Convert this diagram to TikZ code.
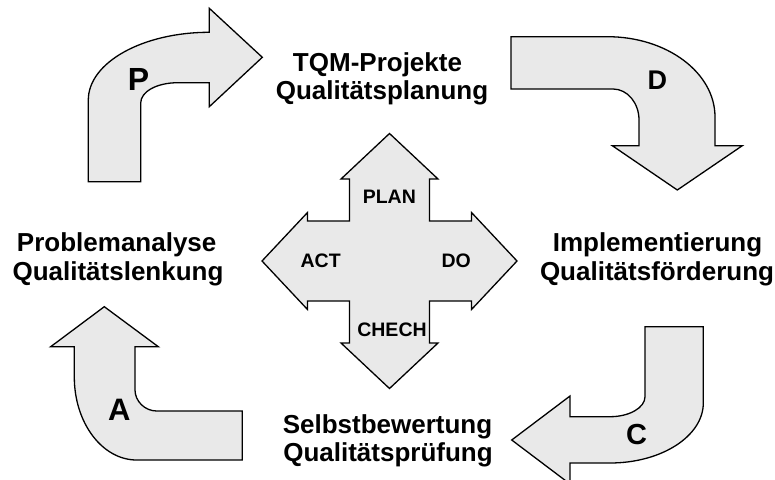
\documentclass[tikz,border=0pt]{standalone}
\usepackage{fontspec}
\setmainfont{Liberation Sans}
\definecolor{arrowfill}{RGB}{233,233,233}
\begin{document}
\begin{tikzpicture}[x=1pt,y=-1pt,
  bent/.style={draw=black,fill=arrowfill,line width=1.3pt,line join=miter},
  phase/.style={font=\bfseries,inner sep=0pt,anchor=base},
  cycle/.style={font=\fontsize{19.5}{22}\selectfont\bfseries,inner sep=0pt,anchor=base},
  stage/.style={font=\fontsize{26}{28}\selectfont\bfseries,inner sep=0pt,anchor=base}]
\useasboundingbox (0,0) rectangle (775,479);
\clip (0,0) rectangle (775,479);

% P: bent arrow rising on the left and pointing right
\draw[bent] (88.3,181.7) -- (88.3,100)
  .. controls (88.3,62.6) and (142.5,32.3) .. (209.3,32.3)
  -- (209.3,8.3) -- (262.3,57.3) -- (209.3,106.7) -- (209.3,82.7)
  -- (178,82.7) .. controls (156.5,82.7) and (140.7,91.8) .. (140.7,103)
  -- (140.7,181.7) -- cycle;

% D: arrow coming from the left and turning down
\draw[bent] (511,36.7) -- (607.4,36.7)
  .. controls (666.8,36.7) and (715,72.6) .. (715,117)
  -- (715,145.7) -- (742.3,145.7) -- (677.3,190) -- (612.3,145.7) -- (639,145.7)
  -- (639,120) .. controls (639,102.9) and (627.4,89) .. (613,89)
  -- (511,89) -- cycle;

% C: arrow coming down on the right and turning left
\draw[bent] (645,326.7) -- (703.3,326.7) -- (703.3,403)
  .. controls (703.3,436.1) and (661.5,463) .. (610,463)
  -- (570,463) -- (570,484) -- (511.7,440) -- (570,396) -- (570,416.7)
  -- (610,416.7) .. controls (629.3,416.7) and (645,407.7) .. (645,396.7)
  -- cycle;

% A: arrow coming from the right and turning up
\draw[bent] (104.3,306.7) -- (158.3,346.7) -- (135,346.7) -- (135,390)
  .. controls (135,401) and (144.7,411) .. (156.7,411)
  -- (242.3,411) -- (242.3,460) -- (136.7,460)
  .. controls (102.2,460) and (74.3,422.8) .. (74.3,377)
  -- (74.3,346.7) -- (50.7,346.7) -- cycle;

% central four-way arrow
\draw[bent] (389.5,133.5) -- (438,179) -- (429.5,179) -- (429.5,221)
  -- (471.5,221) -- (471.5,212.5) -- (517,261) -- (471.5,309.5) -- (471.5,301)
  -- (429.5,301) -- (429.5,343) -- (438,343) -- (389.5,388.5) -- (341,343)
  -- (349.5,343) -- (349.5,301) -- (307.5,301) -- (307.5,309.5) -- (262,261)
  -- (307.5,212.5) -- (307.5,221) -- (349.5,221) -- (349.5,179) -- (341,179)
  -- cycle;

% phase letters on the bent arrows
\node[phase,font=\fontsize{32}{34}\selectfont\bfseries] (p) at (138.5,90) {P};
\node[phase,font=\fontsize{27}{29}\selectfont\bfseries] (d) at (657.3,89.3) {D};
\node[phase,font=\fontsize{29}{31}\selectfont\bfseries] (c) at (636.7,444) {C};
\node[phase,font=\fontsize{31}{33}\selectfont\bfseries] (a) at (119.3,420.7) {A};

% labels on the central arrow
\node[cycle] (plan)  at (389.3,203.3) {PLAN};
\node[cycle] (act)   at (320.7,267.3) {ACT};
\node[cycle] (do)    at (456.2,267.3) {DO};
\node[cycle] (check) at (392,336.7) {CHECH};

% stage descriptions
\node[stage] (top1) at (377.5,71.7) {TQM-Projekte};
\node[stage] (top2) at (382,99.3) {Qualitätsplanung};
\node[stage] (lft1) at (116.7,251.7) {Problemanalyse};
\node[stage] (lft2) at (118,280) {Qualitätslenkung};
\node[stage] (rgt1) at (657.5,251.7) {Implementierung};
\node[stage] (rgt2) at (657,280) {Qualitätsförderung};
\node[stage] (bot1) at (387.5,433.3) {Selbstbewertung};
\node[stage] (bot2) at (388,461.7) {Qualitätsprüfung};
\end{tikzpicture}
\end{document}
